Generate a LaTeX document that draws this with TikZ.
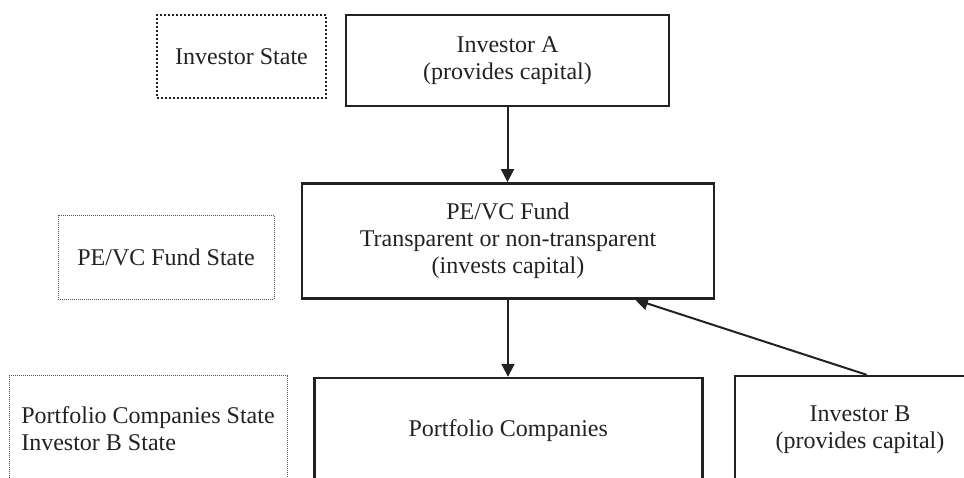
\documentclass[tikz,border=0pt]{standalone}
\usepackage{fontspec}
\setmainfont{Liberation Serif}
\usepackage{xcolor}
\definecolor{mydark}{rgb}{0.14,0.13,0.13}
\definecolor{mygrey}{rgb}{0.32,0.32,0.32}
\usetikzlibrary{calc,arrows.meta}

\begin{document}
\begin{tikzpicture}[x=0.5pt,y=-0.5pt,
        font=\fontsize{12}{13.4}\selectfont, text=mydark,
        entity/.style={draw=mydark, line width=1.2pt, align=center, inner sep=0pt},
        statebold/.style={draw=mydark, line width=1pt, dash pattern=on 1pt off 1pt, align=center, inner sep=0pt},
        statethin/.style={draw=mygrey, line width=0.5pt, dash pattern=on 0.5pt off 0.5pt, align=center, inner sep=0pt},
        flow/.style={draw=mydark, line width=1pt, -{Triangle[length=6.5pt,width=6.5pt]}}]
        \useasboundingbox (0,0) rectangle (964,477);
        \clip (0,0) rectangle (964,477);
        % jurisdictions
        \node[statebold, minimum width=84.5pt, minimum height=41.5pt] (invstate) at (241.5,56.5) {Investor State};
        \node[statethin, minimum width=108pt, minimum height=42pt] (fundstate) at (166,257) {PE/VC Fund State};
        \node[statethin, minimum width=139pt, minimum height=53.5pt, align=left] (pcstate) at (148,429) {Portfolio Companies State\\Investor B State};
        % parties
        \node[entity, minimum width=161.5pt, minimum height=45.5pt] (invA) at (507.5,60.5) {Investor A\\(provides capital)};
        \node[entity, minimum width=206pt, minimum height=57.5pt] (fund) at (508,240.8) {PE/VC Fund\\Transparent or non-transparent\\(invests capital)};
        \node[entity, minimum width=194pt, minimum height=53pt] (pc) at (508.3,431) {Portfolio Companies};
        \node[entity, minimum width=125pt, minimum height=54pt] (invB) at (860,430) {Investor B\\(provides capital)};
        % capital flows
        \draw[flow] (invA.south) -- (invA.south |- fund.north);
        \draw[flow] (fund.south) -- (fund.south |- pc.north);
        \draw[flow] ($(invB.north)+(6.7,0)$) -- ($(fund.south)+(127,0)$);
    \end{tikzpicture}
\end{document}
